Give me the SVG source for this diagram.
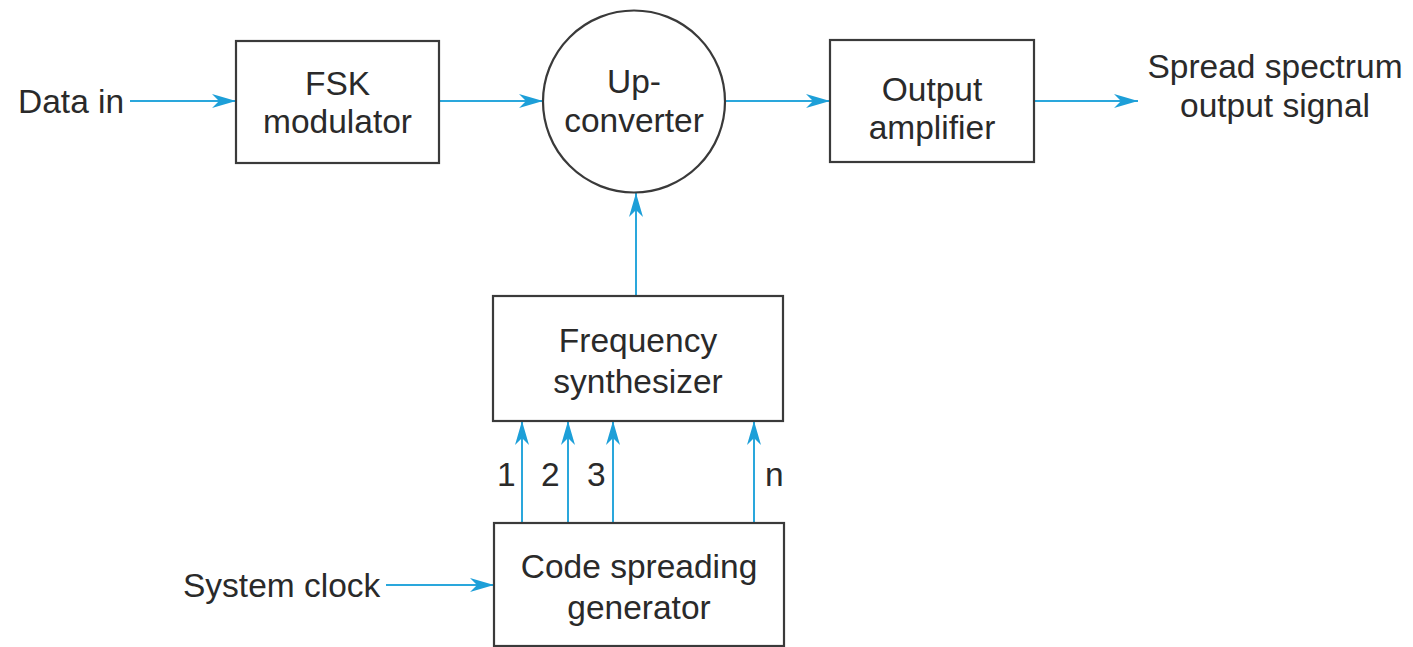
<svg xmlns="http://www.w3.org/2000/svg" width="1413" height="647" viewBox="0 0 1413 647">
  <defs>
    <style>
      .box { fill: #ffffff; stroke: #3a3a3a; stroke-width: 2.2; }
      .lbl { font-family: "Liberation Sans", Arial, sans-serif; font-size: 33.5px; fill: #2a2a2a; }
      .mid { text-anchor: middle; }
      .wire { stroke: #2aa7dc; stroke-width: 2; fill: none; marker-end: url(#ah); }
    </style>
    <marker id="ah" viewBox="0 0 24 14" refX="24" refY="7" markerWidth="24" markerHeight="14" markerUnits="userSpaceOnUse" orient="auto">
      <path d="M0,0 L24,7 L0,14 L7,7 Z" fill="#1d9fd8"/>
    </marker>
  </defs>
  <rect width="1413" height="647" fill="#ffffff"/>

  <g id="connectors">
    <line class="wire" x1="130" y1="101" x2="236" y2="101"/>
    <line class="wire" x1="439" y1="101" x2="543" y2="101"/>
    <line class="wire" x1="725" y1="101" x2="830" y2="101"/>
    <line class="wire" x1="1034" y1="101" x2="1138" y2="101"/>
    <line class="wire" x1="636" y1="296" x2="636" y2="193"/>
    <line class="wire" x1="522" y1="523" x2="522" y2="421"/>
    <line class="wire" x1="568" y1="523" x2="568" y2="421"/>
    <line class="wire" x1="613" y1="523" x2="613" y2="421"/>
    <line class="wire" x1="754" y1="523" x2="754" y2="421"/>
    <line class="wire" x1="386" y1="585" x2="494" y2="585"/>
  </g>

  <g id="data-in">
    <text class="lbl" x="18" y="113">Data in</text>
  </g>

  <g id="fsk-modulator">
    <rect class="box" x="236" y="41" width="203" height="122"/>
    <text class="lbl mid" x="337.5" y="95">FSK</text>
    <text class="lbl mid" x="337.5" y="133">modulator</text>
  </g>

  <g id="up-converter">
    <circle class="box" cx="634" cy="101.5" r="91"/>
    <text class="lbl mid" x="634" y="93">Up-</text>
    <text class="lbl mid" x="634" y="132">converter</text>
  </g>

  <g id="output-amplifier">
    <rect class="box" x="830" y="40" width="204" height="122"/>
    <text class="lbl mid" x="932" y="101">Output</text>
    <text class="lbl mid" x="932" y="139">amplifier</text>
  </g>

  <g id="output-signal">
    <text class="lbl mid" x="1275" y="78">Spread spectrum</text>
    <text class="lbl mid" x="1275" y="117">output signal</text>
  </g>

  <g id="frequency-synthesizer">
    <rect class="box" x="493" y="296" width="290" height="125"/>
    <text class="lbl mid" x="638" y="352">Frequency</text>
    <text class="lbl mid" x="638" y="393">synthesizer</text>
  </g>

  <g id="channel-labels">
    <text class="lbl" x="497" y="486">1</text>
    <text class="lbl" x="541" y="486">2</text>
    <text class="lbl" x="587" y="486">3</text>
    <text class="lbl" x="765" y="486">n</text>
  </g>

  <g id="code-spreading-generator">
    <rect class="box" x="494" y="523" width="290" height="123"/>
    <text class="lbl mid" x="639" y="578">Code spreading</text>
    <text class="lbl mid" x="639" y="619">generator</text>
  </g>

  <g id="system-clock">
    <text class="lbl" x="183" y="597">System clock</text>
  </g>
</svg>
